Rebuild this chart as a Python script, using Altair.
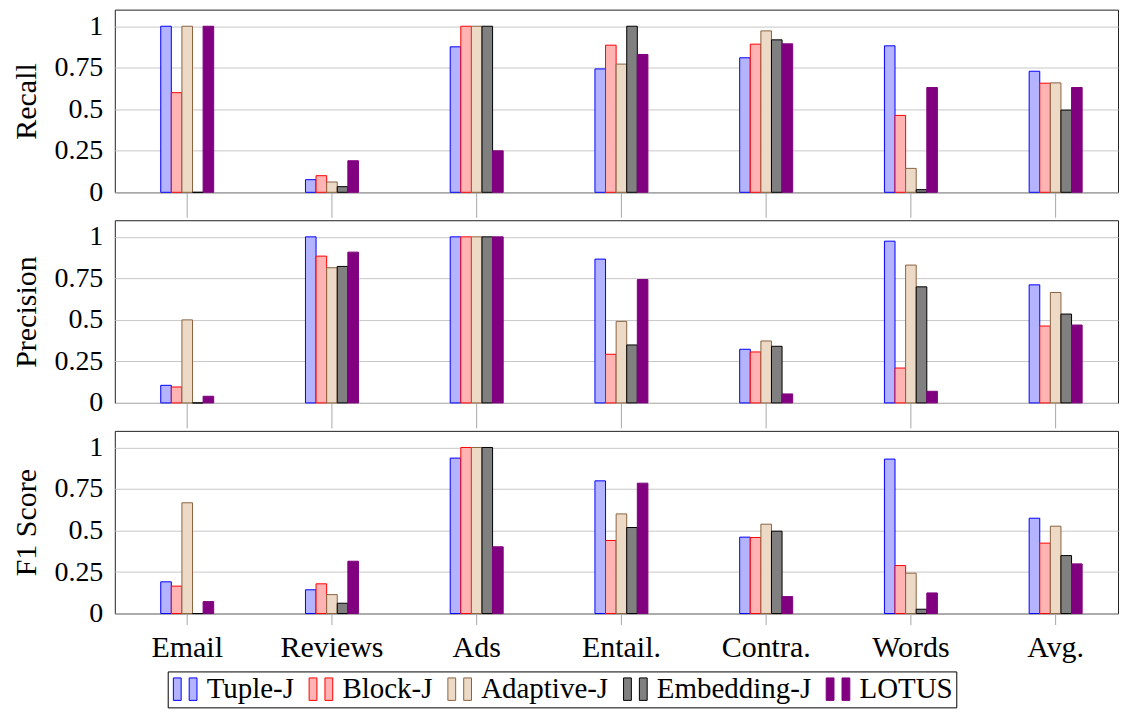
import altair as alt
import pandas as pd

categories = ["Email", "Reviews", "Ads", "Entail.", "Contra.", "Words", "Avg."]
series = ["Tuple-J", "Block-J", "Adaptive-J", "Embedding-J", "LOTUS"]
fill_colors = ["#b3b3ff", "#ffb3b3", "#ecd9c6", "#808080", "#800080"]
stroke_colors = ["#0000ff", "#ff0000", "#8b6340", "#000000", "#800080"]
y_ticks = [0, 0.25, 0.5, 0.75, 1]

recall = {
    "Tuple-J":     [1.0, 0.076, 0.876, 0.743, 0.81, 0.882, 0.729],
    "Block-J":     [0.60, 0.10, 1.0, 0.886, 0.892, 0.463, 0.657],
    "Adaptive-J":  [1.0, 0.062, 1.0, 0.772, 0.972, 0.144, 0.659],
    "Embedding-J": [0.0, 0.034, 1.0, 1.0, 0.918, 0.016, 0.495],
    "LOTUS":       [1.0, 0.19, 0.25, 0.83, 0.894, 0.631, 0.631],
}
precision = {
    "Tuple-J":     [0.106, 1.0, 1.0, 0.866, 0.323, 0.974, 0.711],
    "Block-J":     [0.096, 0.884, 1.0, 0.293, 0.307, 0.21, 0.463],
    "Adaptive-J":  [0.5, 0.814, 1.0, 0.491, 0.373, 0.83, 0.665],
    "Embedding-J": [0.0, 0.822, 1.0, 0.349, 0.341, 0.699, 0.535],
    "LOTUS":       [0.04, 0.908, 1.0, 0.743, 0.054, 0.07, 0.469],
}
f1 = {
    "Tuple-J":     [0.191, 0.143, 0.936, 0.799, 0.46, 0.93, 0.574],
    "Block-J":     [0.165, 0.179, 1.0, 0.44, 0.458, 0.289, 0.424],
    "Adaptive-J":  [0.667, 0.114, 1.0, 0.6, 0.538, 0.243, 0.526],
    "Embedding-J": [0.0, 0.062, 1.0, 0.518, 0.496, 0.026, 0.349],
    "LOTUS":       [0.072, 0.315, 0.402, 0.785, 0.102, 0.124, 0.299],
}

FONT = "Liberation Serif"
W, H = 1005, 183


def to_long(d):
    rows = []
    for s in series:
        for c, v in zip(categories, d[s]):
            rows.append({"category": c, "series": s, "value": v})
    return pd.DataFrame(rows)


legend = alt.Legend(
    title=None,
    orient="none",
    legendX=53,
    legendY=663,
    direction="horizontal",
    columns=5,
    symbolType="M-1,-0.95H-0.34V0.95H-1Z M0.34,-0.95H1V0.95H0.34Z",
    symbolSize=560,
    symbolStrokeWidth=1,
    symbolOpacity=1,
    labelFont=FONT,
    labelFontSize=29,
    labelColor="black",
    labelLimit=0,
    labelOffset=7,
    columnPadding=12,
    padding=3,
    strokeColor="black",
)


def panel(d, title, last):
    return alt.Chart(to_long(d)).mark_bar(strokeWidth=1, fillOpacity=1, strokeOpacity=1).encode(
        x=alt.X(
            "category:N",
            sort=categories,
            scale=alt.Scale(paddingInner=0.634, paddingOuter=0.2825, align=0.5615),
            axis=alt.Axis(
                title=None,
                labels=last,
                domain=False,
                grid=False,
                ticks=True,
                tickSize=11 if last else 25,
                tickColor="#a8a8a8",
                labelFont=FONT,
                labelFontSize=30,
                labelColor="black",
                labelAngle=0,
                labelPadding=8,
            ),
        ),
        xOffset=alt.XOffset("series:N", sort=series, scale=alt.Scale(paddingInner=0, paddingOuter=0)),
        y=alt.Y(
            "value:Q",
            scale=alt.Scale(domain=[0, 1.1], nice=False, zero=True),
            axis=alt.Axis(
                values=y_ticks,
                format=".2~f",
                title=title,
                titleFont=FONT,
                titleFontSize=30,
                titleFontWeight="normal",
                titleColor="black",
                titlePadding=7,
                labelFont=FONT,
                labelFontSize=28,
                labelColor="black",
                labelPadding=12,
                tickSize=0,
                domain=False,
                grid=True,
                gridColor="#c8c8c8",
                gridWidth=1,
                minExtent=66,
                maxExtent=66,
            ),
        ),
        fill=alt.Fill("series:N", sort=series, scale=alt.Scale(domain=series, range=fill_colors), legend=legend),
        stroke=alt.Stroke("series:N", sort=series, scale=alt.Scale(domain=series, range=stroke_colors), legend=legend),
    ).properties(width=W, height=H)


chart = alt.vconcat(
    panel(recall, "Recall", False),
    panel(precision, "Precision", False),
    panel(f1, "F1 Score", True),
    spacing=1,
).properties(
    padding={"left": 3, "top": 0, "right": 0, "bottom": 0}
).configure_view(
    stroke="#222222", strokeWidth=1
)

chart.save("out.html", embed_options={"renderer": "svg", "actions": False})
